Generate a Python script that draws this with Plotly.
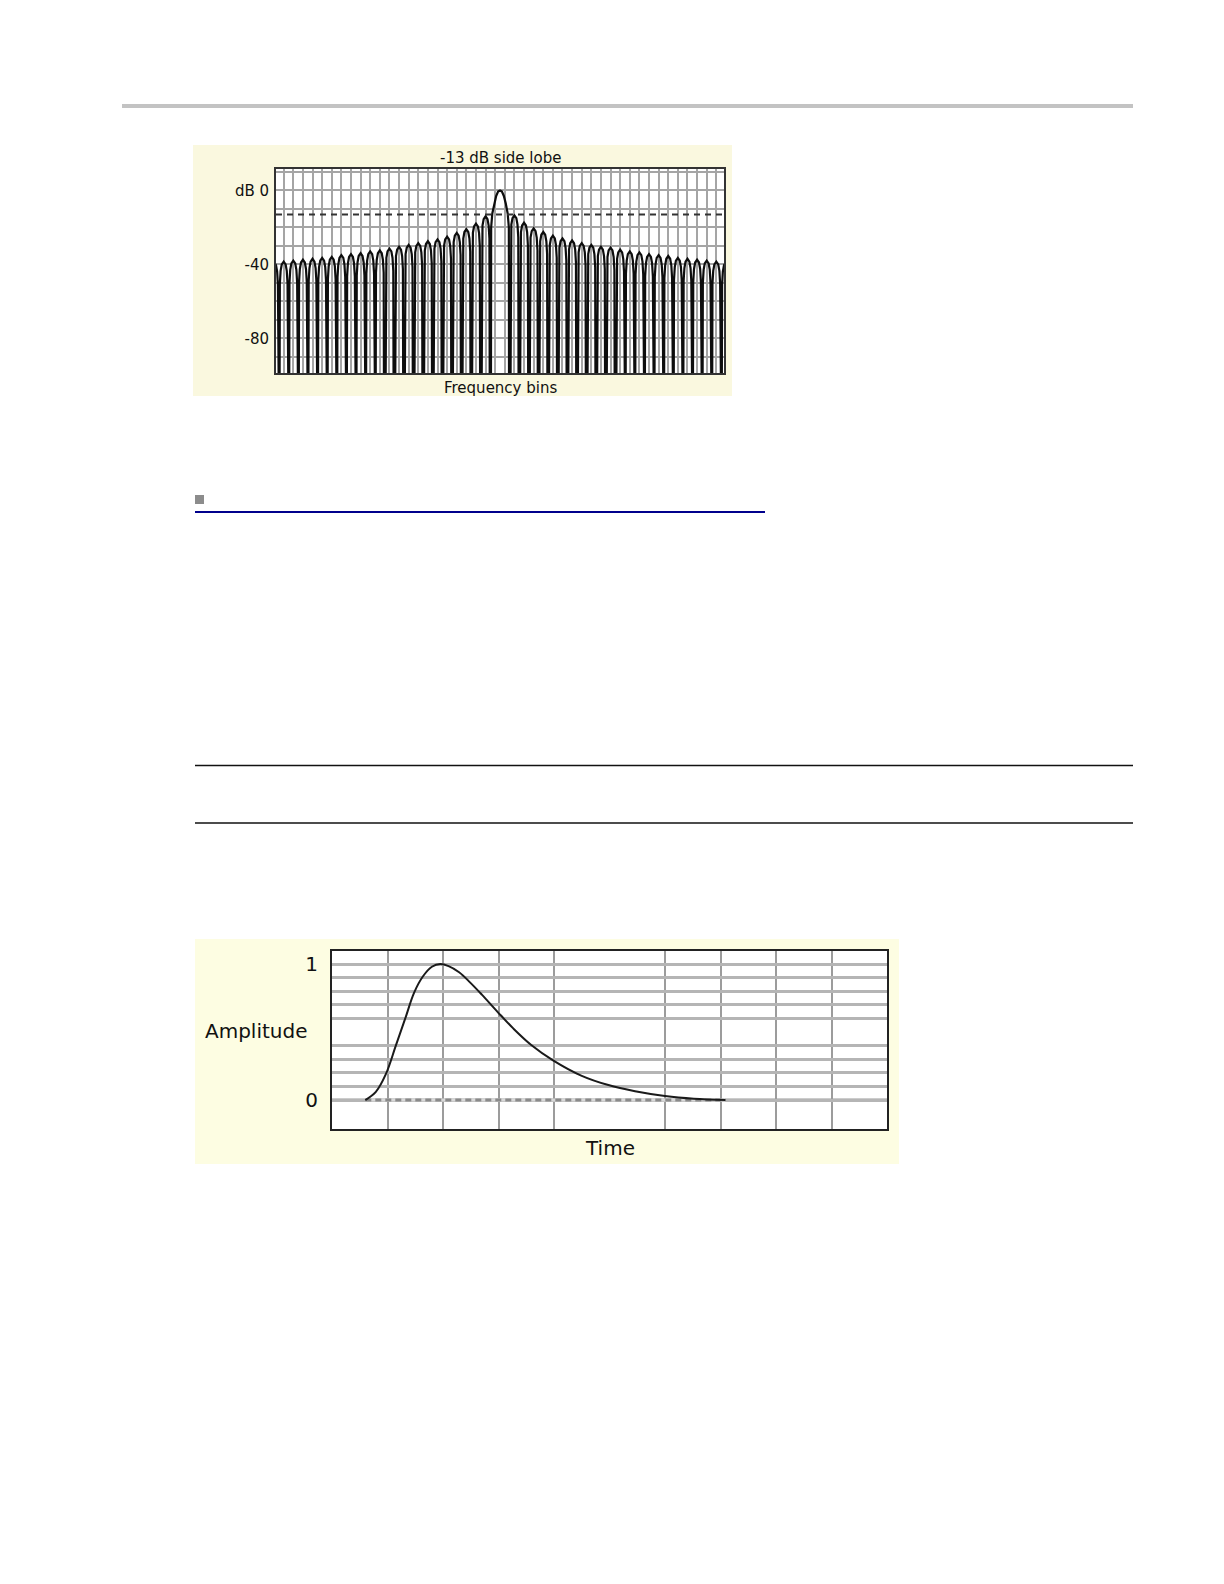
import plotly.graph_objects as go

# reference page size and the browser's default 8px body margin
PAGE_W, PAGE_H = 1224, 1584
OFF = 8
FW, FH = PAGE_W - 2 * OFF, PAGE_H - 2 * OFF

# ---------------- top chart data (dB vs frequency bins) ----------------
main_lobe_x = [-0.92, -0.8, -0.6, -0.4, -0.2, 0, 0.2, 0.4, 0.6, 0.8, 0.92]
main_lobe_db = [-20, -12.5, -7, -3, -0.6, 0, -0.6, -3, -7, -12.5, -20]
# side-lobe peak levels, k = 1 (next to main lobe) .. 23 (at the edge)
right_lobe_db = [-13.5, -17.5, -20.5, -22.5, -24.5, -26, -27, -28.5, -29.5, -30.5, -31,
                 -32, -33, -33.5, -34.5, -35, -35.5, -36.5, -37, -37.5, -38, -38.5, -39]
left_lobe_db = [-14, -18, -21, -23, -25, -26.5, -27.5, -28.5, -29.5, -30.5, -31.5,
                -32.5, -33, -34, -34.5, -35, -36, -36.5, -37, -37.5, -38, -38.5, -39]
side_lobe_marker_db = -13
top_y_grid = [10, 0, -10, -20, -30, -40, -50, -60, -70, -80, -90]
top_y_labels = {0: "dB 0", -40: "-40", -80: "-80"}
top_title = "-13 dB side lobe"
top_xlabel = "Frequency bins"

# ---------------- bottom chart data (amplitude vs time) ----------------
pulse_t = [0.6, 0.79, 0.97, 1.15, 1.32, 1.48, 1.64, 1.80, 1.95, 2.10, 2.29, 2.50, 2.70,
           2.99, 3.27, 3.59, 3.99, 4.49, 4.98, 5.46, 6.0, 6.52, 7.09]
pulse_amp = [0, 0.06, 0.19, 0.40, 0.60, 0.79, 0.91, 0.98, 1.0, 0.985, 0.94, 0.86, 0.775,
             0.645, 0.525, 0.405, 0.29, 0.18, 0.11, 0.065, 0.03, 0.01, 0]
bottom_x_grid = [1, 2, 3, 4, 6, 7, 8, 9]
bottom_y_grid = [0.1, 0.2, 0.3, 0.4, 0.6, 0.7, 0.8, 0.9, 1.0]
bottom_y_labels = {0: "0", 1.0: "1"}
bottom_ylabel = "Amplitude"
bottom_xlabel = "Time"

# ---------------- styling constants ----------------
FONT = "DejaVu Sans"
FLOOR = -150
LOBE_F = [0.05, 0.1, 0.18, 0.3, 0.5, 0.7, 0.82, 0.9, 0.95]
LOBE_DROP = [None, 12, 5, 1.5, 0, 1.5, 5, 12, None]


def px(x):
    return (x - OFF) / FW


def py(y):
    return 1 - (y - OFF) / FH


# build the spectrum polyline from the lobe levels
spec_x, spec_y = [], []


def add_lobe(lo, level):
    for f, d in zip(LOBE_F, LOBE_DROP):
        spec_x.append(lo + f)
        spec_y.append(FLOOR if d is None else level - d)


n_side = len(left_lobe_db)
for k in range(n_side, 0, -1):
    add_lobe(-(k + 1), left_lobe_db[k - 1])
spec_x += [-0.95] + main_lobe_x + [0.95]
spec_y += [FLOOR] + main_lobe_db + [FLOOR]
for k in range(1, n_side + 1):
    add_lobe(k, right_lobe_db[k - 1])

X_HALF = 23.3

fig = go.Figure()

fig.add_trace(go.Scatter(x=spec_x, y=spec_y, mode="lines",
                         line=dict(color="#0d0d0d", width=2.2),
                         xaxis="x", yaxis="y", hoverinfo="skip", showlegend=False))
fig.add_trace(go.Scatter(x=[-X_HALF, X_HALF], y=[side_lobe_marker_db] * 2, mode="lines",
                         line=dict(color="#333333", width=2, dash="6px,5px"),
                         xaxis="x", yaxis="y", showlegend=False))

# bottom chart
fig.add_trace(go.Scatter(x=[pulse_t[0], pulse_t[-1]], y=[0, 0], mode="lines",
                         line=dict(color="#d8d8d8", width=3),
                         xaxis="x2", yaxis="y2", showlegend=False))
fig.add_trace(go.Scatter(x=[pulse_t[0], pulse_t[-1]], y=[0, 0], mode="lines",
                         line=dict(color="#8a8a8a", width=3, dash="6px,4px"),
                         xaxis="x2", yaxis="y2", showlegend=False))
fig.add_trace(go.Scatter(x=pulse_t, y=pulse_amp, mode="lines", line_shape="spline",
                         line=dict(color="#1a1a1a", width=2),
                         xaxis="x2", yaxis="y2", showlegend=False))

shapes = []
# page decorations
shapes.append(dict(type="line", xref="paper", yref="paper", x0=px(122), x1=px(1133),
                   y0=py(106), y1=py(106), line=dict(color="#c3c3c3", width=4)))
shapes.append(dict(type="rect", xref="paper", yref="paper", x0=px(195), x1=px(204),
                   y0=py(495), y1=py(504), fillcolor="#8c8c8c", line=dict(width=0)))
shapes.append(dict(type="line", xref="paper", yref="paper", x0=px(195), x1=px(765),
                   y0=py(512), y1=py(512), line=dict(color="#00008c", width=2)))
for yy in (765.5, 823):
    shapes.append(dict(type="line", xref="paper", yref="paper", x0=px(195), x1=px(1133),
                       y0=py(yy), y1=py(yy), line=dict(color="#111111", width=1.5)))
# chart panels (beige) and white plot areas
shapes.append(dict(type="rect", xref="paper", yref="paper", x0=px(193), x1=px(732),
                   y0=py(396), y1=py(145), fillcolor="#faf8df", line=dict(width=0), layer="below"))
shapes.append(dict(type="rect", xref="paper", yref="paper", x0=px(195), x1=px(899),
                   y0=py(1164), y1=py(939), fillcolor="#fdfde2", line=dict(width=0), layer="below"))
shapes.append(dict(type="rect", xref="x domain", yref="y domain", x0=0, x1=1, y0=0, y1=1,
                   fillcolor="white", line=dict(width=0), layer="below"))
shapes.append(dict(type="rect", xref="x2 domain", yref="y2 domain", x0=0, x1=1, y0=0, y1=1,
                   fillcolor="white", line=dict(width=0), layer="below"))
# zero line bottom chart
shapes.append(dict(type="line", xref="x2 domain", yref="y2", x0=0, x1=1, y0=0, y1=0,
                   line=dict(color="#9a9a9a", width=3), layer="below"))

annotations = [
    dict(text=top_title, xref="x domain", yref="paper", x=0.5, y=py(158), showarrow=False,
         font=dict(family=FONT, size=15, color="#111"), xanchor="center", yanchor="middle"),
    dict(text=top_xlabel, xref="x domain", yref="paper", x=0.5, y=py(388), showarrow=False,
         font=dict(family=FONT, size=15, color="#111"), xanchor="center", yanchor="middle"),
    dict(text=bottom_ylabel, xref="paper", yref="paper", x=px(203), y=py(1031), showarrow=False,
         font=dict(family=FONT, size=20, color="#111"), xanchor="left", yanchor="middle"),
    dict(text=bottom_xlabel, xref="x2 domain", yref="paper", x=0.5, y=py(1148), showarrow=False,
         font=dict(family=FONT, size=20, color="#111"), xanchor="center", yanchor="middle"),
]

grid_top = "#a5a5a5"
grid_bot = "#b5b5b5"

fig.update_layout(
    width=FW, height=FH,
    margin=dict(l=0, r=0, t=0, b=0),
    paper_bgcolor="white",
    plot_bgcolor="rgba(0,0,0,0)",
    showlegend=False,
    shapes=shapes,
    annotations=annotations,
    xaxis=dict(domain=[px(276), px(724)], range=[-X_HALF, X_HALF], anchor="y",
               tickmode="linear", tick0=0.5, dtick=1, showticklabels=False, ticks="",
               showgrid=True, gridcolor=grid_top, gridwidth=1.5, zeroline=False,
               showline=True, mirror=True, linecolor="#333", linewidth=2),
    yaxis=dict(domain=[py(373), py(169)], range=[-98.8, 11.6], anchor="x",
               tickmode="array", tickvals=top_y_grid,
               ticktext=[top_y_labels.get(v, "") for v in top_y_grid],
               ticks="", ticklabelstandoff=2,
               tickfont=dict(family=FONT, size=15, color="#111"),
               showgrid=True, gridcolor=grid_top, gridwidth=2, zeroline=False,
               showline=True, mirror=True, linecolor="#333", linewidth=2),
    xaxis2=dict(domain=[px(332), px(887)], range=[0, 10], anchor="y2",
                tickmode="array", tickvals=bottom_x_grid, showticklabels=False, ticks="",
                showgrid=True, gridcolor="#9c9c9c", gridwidth=1.5, zeroline=False,
                showline=True, mirror=True, linecolor="#222", linewidth=2),
    yaxis2=dict(domain=[py(1129), py(951)], range=[-0.213, 1.096], anchor="x2",
                tickmode="array", tickvals=[0] + bottom_y_grid,
                ticktext=[bottom_y_labels.get(v, "") for v in [0] + bottom_y_grid],
                ticks="", ticklabelstandoff=8,
                tickfont=dict(family=FONT, size=20, color="#111"),
                showgrid=True, gridcolor=grid_bot, gridwidth=3, zeroline=False,
                showline=True, mirror=True, linecolor="#222", linewidth=2),
)

fig.write_html("out.html")
